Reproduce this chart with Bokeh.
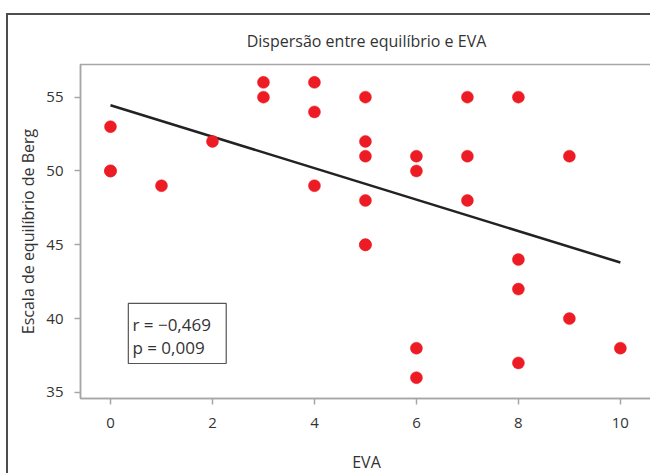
from bokeh.plotting import figure
from bokeh.models import Range1d, BoxAnnotation, Label, FixedTicker
from bokeh.embed import file_html
from bokeh.resources import INLINE

# Data
eva = [0, 0, 0, 1, 2, 3, 3, 4, 4, 4, 5, 5, 5, 5, 5, 5, 6, 6, 6, 6, 7, 7, 7, 8, 8, 8, 8, 9, 9, 10]
berg = [53, 50, 50, 49, 52, 56, 55, 56, 54, 49, 55, 52, 51, 48, 45, 45, 51, 50, 38, 36, 55, 51, 48, 55, 44, 42, 37, 51, 40, 38]

fit_x = [0, 10]
fit_y = [54.45, 43.8]

x_ticks = [0, 2, 4, 6, 8, 10]
y_ticks = [35, 40, 45, 50, 55]

stats_lines = ["r = \u22120,469", "p = 0,009"]

FONT = "Open Sans"
TXT = "#333333"

p = figure(width=644, height=460, output_backend="svg", toolbar_location=None,
           x_range=Range1d(-0.588, 10.63), y_range=Range1d(34.59, 57.21),
           min_border_left=72, min_border_right=0, min_border_top=49, min_border_bottom=77,
           title="Dispersão entre equilíbrio e EVA")
p.margin = (13, 0, 0, 6)
p.styles = {"border-left": "2px solid #4d4d4d", "border-top": "2px solid #4d4d4d"}

p.title.align = "center"
p.title.text_font = FONT
p.title.text_font_size = "16px"
p.title.text_font_style = "normal"
p.title.text_color = TXT
p.title.standoff = 25

p.grid.visible = False
p.outline_line_color = "#a6a6a6"
p.outline_line_width = 1.5

p.xaxis.ticker = FixedTicker(ticks=x_ticks)
p.yaxis.ticker = FixedTicker(ticks=y_ticks)
for ax in (p.xaxis[0], p.yaxis[0]):
    ax.axis_line_color = "#a6a6a6"
    ax.axis_line_width = 1.5
    ax.major_tick_line_color = "#a6a6a6"
    ax.major_tick_line_width = 1.5
    ax.major_tick_out = 6
    ax.major_tick_in = 0
    ax.minor_tick_line_color = None
    ax.major_label_text_font = FONT
    ax.major_label_text_font_size = "15px"
    ax.major_label_text_color = TXT
    ax.axis_label_text_font = FONT
    ax.axis_label_text_font_size = "16px"
    ax.axis_label_text_font_style = "normal"
    ax.axis_label_text_color = TXT

p.xaxis.axis_label = "EVA"
p.yaxis.axis_label = "Escala de equilíbrio de Berg"
p.xaxis.major_label_standoff = 13
p.yaxis.major_label_standoff = 11
p.xaxis.axis_label_standoff = 20
p.yaxis.axis_label_standoff = 4

p.line(fit_x, fit_y, line_color="#222222", line_width=2.5)
p.scatter(eva, berg, size=12, fill_color="#ED1C24", line_color="#ED1C24", line_width=0.5)

box = BoxAnnotation(left=0.35, right=2.27, top=41.03, bottom=36.96,
                    fill_color="white", fill_alpha=1.0,
                    line_color="#555555", line_width=1.2, line_alpha=1.0, level="overlay")
p.add_layout(box)
for txt, yv in zip(stats_lines, [39.61, 38.05]):
    p.add_layout(Label(x=0.43, y=yv, text=txt, text_font=FONT, text_font_size="17px",
                       text_color=TXT, text_baseline="middle", level="overlay"))

open("out.html", "w").write(file_html(p, INLINE))
